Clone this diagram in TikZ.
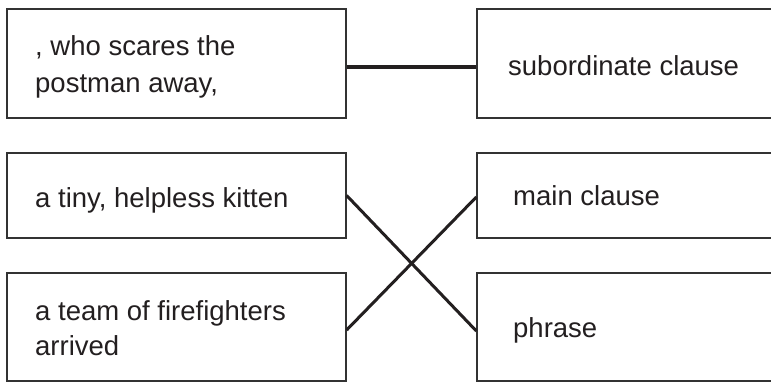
\documentclass[tikz,border=0pt]{standalone}
\usepackage{fontspec}
\setmainfont{Liberation Sans}
\definecolor{boxline}{HTML}{333333}
\definecolor{ink}{HTML}{231F20}
\begin{document}
\begin{tikzpicture}[x=1pt,y=-1pt,
  box/.style={draw=boxline,line width=1.3pt,inner sep=0pt},
  lbl/.style={anchor=base west,inner sep=0pt,text=ink,font=\fontsize{27.5}{33}\selectfont},
  link/.style={draw=ink,line width=3pt},
  thicklink/.style={draw=ink,line width=4.5pt}]
\clip (0,0) rectangle (771,383);
\fill[white] (0,0) rectangle (771,383);
% left boxes
\node[box,minimum width=339pt,minimum height=109pt] (b1) at (176.5,63.5) {};
\node[box,minimum width=339pt,minimum height=85pt] (b2) at (176.5,195.5) {};
\node[box,minimum width=339pt,minimum height=108pt] (b3) at (176.5,327) {};
% right boxes (right edge runs past the picture)
\node[box,minimum width=310pt,minimum height=109pt] (r1) at (632,63.5) {};
\node[box,minimum width=310pt,minimum height=85pt] (r2) at (632,195.5) {};
\node[box,minimum width=310pt,minimum height=108pt] (r3) at (632,327) {};
% texts
\node[lbl] (t1a) at (35,55) {, who scares the};
\node[lbl] (t1b) at (35,92) {postman away,};
\node[lbl] (t2) at (35,207) {a tiny, helpless kitten};
\node[lbl] (t3a) at (35,320) {a team of firefighters};
\node[lbl] (t3b) at (35,355) {arrived};
\node[lbl] (u1) at (508,75) {subordinate clause};
\node[lbl] (u2) at (513,205) {main clause};
\node[lbl] (u3) at (513,337) {phrase};
% connectors
\draw[thicklink] ([yshift=-3.5pt]b1.east) -- ([yshift=-3.5pt]r1.west);
\draw[link] (b2.east) -- ([yshift=-4pt]r3.west);
\draw[link] ([yshift=-3pt]b3.east) -- ([yshift=-1.5pt]r2.west);
\end{tikzpicture}
\end{document}
